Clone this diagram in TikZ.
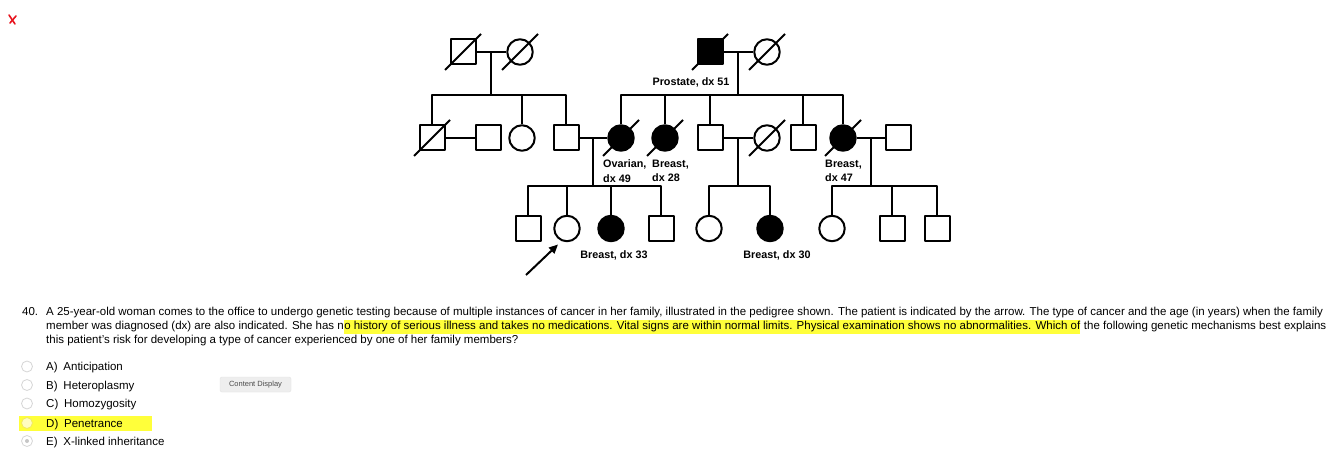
\documentclass[tikz,border=0pt]{standalone}
\usepackage{fontspec}
\setmainfont{Liberation Sans}
\usetikzlibrary{positioning,arrows.meta}
\definecolor{hilite}{HTML}{FFFF3A}
\definecolor{radioline}{HTML}{D6D6D6}
\definecolor{markred}{HTML}{E8141E}
% slash through a deceased person
\newcommand{\dead}[1]{\draw[kin] ([shift={(-18,18)}]#1.center) -- ([shift={(18,-18)}]#1.center);}
\begin{document}
\begin{tikzpicture}[x=1pt, y=-1pt, line join=round, >=Stealth,
		kin/.style={line width=2pt},
		male/.style={draw, line width=2pt, minimum size=25pt, inner sep=0pt},
		female/.style={circle, draw, line width=2pt, minimum size=25.5pt, inner sep=0pt},
		ill/.style={fill=black},
		lbl/.style={font=\fontsize{10.8}{14.5}\selectfont\bfseries, inner sep=0pt, align=left},
		qtext/.style={font=\fontsize{11.5}{13}\selectfont, inner sep=0pt, anchor=base west},
		radio/.style={circle, draw=radioline, line width=0.8pt, fill=white, minimum size=11pt, inner sep=0pt}]
	\path[fill=white] (0,0) rectangle (1334,457);
	\useasboundingbox (0,0) rectangle (1334,457);
	% mark in the corner
	\draw[markred, line width=1.6pt, line cap=round] (9,15) -- (15,24);
	\draw[markred, line width=1.6pt, line cap=round] (16,16) -- (10,23);
	% generation I
	\node[male] (gpA) at (463,52) {};
	\node[female] (gmA) at (520,52) {};
	\node[male, ill] (gpB) at (710,52) {};
	\node[female] (gmB) at (767,52) {};
	\dead{gpA} \dead{gmA} \dead{gpB} \dead{gmB}
	\draw[kin] (gpA) -- coordinate (mA) (gmA);
	\draw[kin] (gpB) -- coordinate (mB) (gmB);
	\path (mA) ++(0,43) coordinate (sibA);
	\path (mB) ++(0,43) coordinate (sibB);
	\draw[kin] (mA) -- (sibA);
	\draw[kin] (mB) -- (sibB);
	\node[lbl] (lblP) at (691,82) {Prostate, dx 51};
	% generation II
	\node[male] (uA1) at (432,138) {};
	\node[male] (uA1s) at (488,138) {};
	\node[female] (aA2) at (522,138) {};
	\node[male] (fa) at (566,138) {};
	\node[female, ill] (mo) at (621,138) {};
	\node[female, ill] (aB1) at (665,138) {};
	\node[male] (uB1) at (710,138) {};
	\node[female] (uB1s) at (767,138) {};
	\node[male] (uB2) at (803,138) {};
	\node[female, ill] (aB2) at (843,138) {};
	\node[male] (aB2s) at (898,138) {};
	\dead{uA1} \dead{mo} \dead{aB1} \dead{uB1s} \dead{aB2}
	\draw[kin] (uA1.north) |- (sibA) -| (fa.north);
	\draw[kin] (aA2.north) -- (aA2.north |- sibA);
	\draw[kin] (mo.north) |- (sibB) -| (aB2.north);
	\draw[kin] (aB1.north) -- (aB1.north |- sibB);
	\draw[kin] (uB1.north) -- (uB1.north |- sibB);
	\draw[kin] (uB2.north) -- (uB2.north |- sibB);
	\draw[kin] (uA1) -- (uA1s);
	\draw[kin] (fa) -- coordinate (mC) (mo);
	\draw[kin] (uB1) -- coordinate (mD) (uB1s);
	\draw[kin] (aB2) -- coordinate (mE) (aB2s);
	\path (mC) ++(0,48) coordinate (sibC);
	\path (mD) ++(0,48) coordinate (sibD);
	\path (mE) ++(0,48) coordinate (sibE);
	\draw[kin] (mC) -- (sibC);
	\draw[kin] (mD) -- (sibD);
	\draw[kin] (mE) -- (sibE);
	\node[lbl, anchor=north west] (lblMo) at (603,159.5) {Ovarian,\\dx 49};
	\node[lbl, anchor=north west] (lblB1) at (652,159.5) {Breast,\\dx 28};
	\node[lbl, anchor=north west] (lblB2) at (825,159.5) {Breast,\\dx 47};
	% generation III
	\node[male] (s1) at (528,228.5) {};
	\node[female] (pat) at (567,228.5) {};
	\node[female, ill] (s2) at (611,228.5) {};
	\node[male] (s3) at (661,228.5) {};
	\node[female] (cD1) at (709,228.5) {};
	\node[female, ill] (cD2) at (770,228.5) {};
	\node[female] (cE1) at (832,228.5) {};
	\node[male] (cE2) at (892,228.5) {};
	\node[male] (cE3) at (937,228.5) {};
	\draw[kin] (s1.north) |- (sibC) -| (s3.north);
	\draw[kin] (pat.north) -- (pat.north |- sibC);
	\draw[kin] (s2.north) -- (s2.north |- sibC);
	\draw[kin] (cD1.north) |- (sibD) -| (cD2.north);
	\draw[kin] (cE1.north) |- (sibE) -| (cE3.north);
	\draw[kin] (cE2.north) -- (cE2.north |- sibE);
	\node[lbl] (lblS2) at (614,255) {Breast, dx 33};
	\node[lbl] (lblD2) at (777,255) {Breast, dx 30};
	\coordinate (ptr) at (526,275);
	\draw[kin, -{Triangle[length=9pt, width=8pt]}] (ptr) -- ([shift={(-9,16)}]pat.center);
	% question
	\node[qtext] (qnum) at (22,316) {40.};
	\node[qtext] (q1) at (46,316) {A 25-year-old woman comes to the office to undergo genetic testing because of multiple instances of cancer in her family, illustrated in the pedigree shown. The patient is indicated by the arrow. The type of cancer and the age (in years) when the family};
	\node[qtext] (q2a) at (46,330) {member was diagnosed (dx) are also indicated. She has n};
	\node[qtext, fill=hilite, text height=10.5pt, text depth=3.5pt] (q2b) at (q2a.base east) {o history of serious illness and takes no medications. Vital signs are within normal limits. Physical examination shows no abnormalities. Which of};
	\node[qtext] (q2c) at (q2b.base east) {\ the following genetic mechanisms best explains};
	\node[qtext] (q3) at (46,343.5) {this patient's risk for developing a type of cancer experienced by one of her family members?};
	% answers
	\fill[hilite] (19,416) rectangle (152,431);
	\node[radio] (rA) at (27,366.5) {};
	\node[radio] (rB) at (27,385) {};
	\node[radio] (rC) at (27,403.5) {};
	\node[radio, fill=yellow!25!white, draw=yellow!60!radioline] (rD) at (27,423) {};
	\node[radio] (rE) at (27,441) {};
	\fill[gray!45] (rE.center) circle (2pt);
	\node[qtext] (oA) at (46,370.5) {A)\enspace Anticipation};
	\node[qtext] (oB) at (46,389) {B)\enspace Heteroplasmy};
	\node[qtext] (oC) at (46,407.5) {C)\enspace Homozygosity};
	\node[qtext] (oD) at (46,427) {D)\enspace Penetrance};
	\node[qtext] (oE) at (46,445) {E)\enspace X-linked inheritance};
	\node[rounded corners=2pt, fill=gray!13, draw=gray!22, line width=0.4pt, minimum width=71pt, minimum height=15pt, inner sep=0pt, font=\fontsize{7.5}{9}\selectfont, text=black!70] (cdisp) at (255.5,384.5) {Content Display};
\end{tikzpicture}
\end{document}
